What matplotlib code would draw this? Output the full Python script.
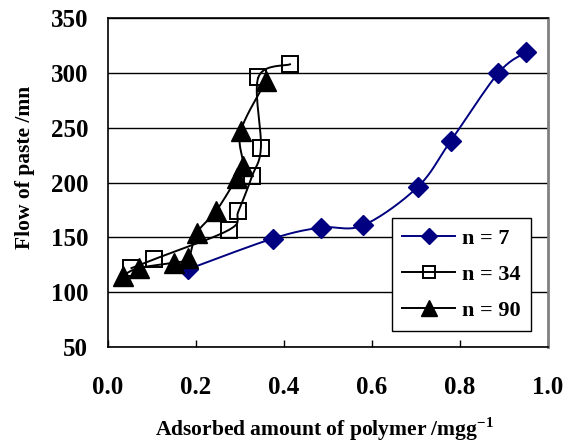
import numpy as np
import matplotlib
matplotlib.use('Agg')
from matplotlib import pyplot as plt

plt.rcParams['font.family'] = ['Liberation Serif', 'DejaVu Serif']
plt.rcParams['font.weight'] = 'bold'
plt.rcParams['mathtext.fontset'] = 'custom'
plt.rcParams['mathtext.rm'] = 'Liberation Serif'
plt.rcParams['mathtext.bf'] = 'Liberation Serif:bold'

# data
x_n7 = [0.183, 0.375, 0.484, 0.580, 0.704, 0.779, 0.887, 0.950]
y_n7 = [121, 149, 159, 161, 196, 238, 300, 319]

x_n34 = [0.054, 0.105, 0.276, 0.297, 0.328, 0.348, 0.342, 0.414]
y_n34 = [122, 130, 157, 174, 206, 232, 296, 308]

x_n90 = [0.034, 0.070, 0.151, 0.183, 0.202, 0.246, 0.293, 0.308, 0.302, 0.360]
y_n90 = [115, 122, 127, 131, 154, 174, 204, 215, 247, 293]

labels = ['n = 7', 'n = 34', 'n = 90']
x_ticks = [0.0, 0.2, 0.4, 0.6, 0.8, 1.0]
y_ticks = [50, 100, 150, 200, 250, 300, 350]


def smooth(x, y, n=20):
    # catmull-rom curve through the points (like excel smoothed line)
    p = np.column_stack([x, y]).astype(float)
    p = np.vstack([p[0], p, p[-1]])
    out = []
    for i in range(1, len(p) - 2):
        p0, p1, p2, p3 = p[i - 1], p[i], p[i + 1], p[i + 2]
        t = np.linspace(0, 1, n)[:, None]
        seg = 0.5 * ((2 * p1) + (-p0 + p2) * t + (2 * p0 - 5 * p1 + 4 * p2 - p3) * t ** 2
                     + (-p0 + 3 * p1 - 3 * p2 + p3) * t ** 3)
        out.append(seg)
    out = np.vstack(out)
    return out[:, 0], out[:, 1]


fig = plt.figure(figsize=(5.68, 4.46), dpi=100)
ax = fig.add_axes([0.1896, 0.222, 0.7752, 0.737])

navy = '#000080'
sx, sy = smooth(x_n7, y_n7)
ax.plot(sx, sy, color=navy, lw=1.4, zorder=3)
ax.plot(x_n7, y_n7, ls='none', marker='D', ms=10.5, color=navy, zorder=4)
h1, = ax.plot([], [], color=navy, lw=1.4, marker='D', ms=8, label=labels[0])

sx, sy = smooth(x_n34, y_n34)
ax.plot(sx, sy, color='black', lw=1.4, zorder=3)
ax.plot(x_n34, y_n34, ls='none', marker='s', ms=11.5, mfc='none', mec='black', mew=1.4, zorder=4)
h2, = ax.plot([], [], color='black', lw=1.4, marker='s', ms=8.5, mfc='none', mec='black', mew=1.4, label=labels[1])

sx, sy = smooth(x_n90, y_n90)
ax.plot(sx, sy, color='black', lw=1.4, zorder=3)
ax.plot(x_n90, y_n90, ls='none', marker='^', ms=14, color='black', zorder=5)
h3, = ax.plot([], [], color='black', lw=1.4, marker='^', ms=11, label=labels[2])

ax.set_xlim(0, 1.0)
ax.set_ylim(50, 350)
ax.set_xticks(x_ticks)
ax.set_xticklabels(['%.1f' % v for v in x_ticks])
ax.set_yticks(y_ticks)
ax.yaxis.grid(True, color='black', lw=1.0)
ax.set_axisbelow(True)
ax.tick_params(axis='x', direction='in', length=5, width=1, labelsize=18, pad=21)
ax.tick_params(axis='y', length=0, labelsize=18, pad=14)
for s in ax.spines.values():
    s.set_linewidth(1.2)
ax.spines['right'].set_color('#808080')
ax.spines['right'].set_linewidth(2)

ax.set_xlabel(r'Adsorbed amount of polymer /mgg$^{\mathbf{-1}}$', fontsize=15.5, fontweight='bold', va='baseline')
ax.xaxis.set_label_coords(0.493, -0.271)
ax.set_ylabel('Flow of paste /mn', fontsize=15.5, fontweight='bold', va='center')
ax.yaxis.set_label_coords(-0.188, 0.545)

leg = ax.legend(handles=[h1, h2, h3], loc='upper left', bbox_to_anchor=(392 / 568, 1 - 218 / 446),
                bbox_transform=fig.transFigure, borderaxespad=0,
                fontsize=16, frameon=True, fancybox=False, edgecolor='black', framealpha=1,
                handlelength=2.4, handletextpad=0.3, labelspacing=0.7, borderpad=0.45)
leg.get_frame().set_linewidth(1.0)
leg.set_zorder(10)

fig.savefig('out.png', dpi=100)
